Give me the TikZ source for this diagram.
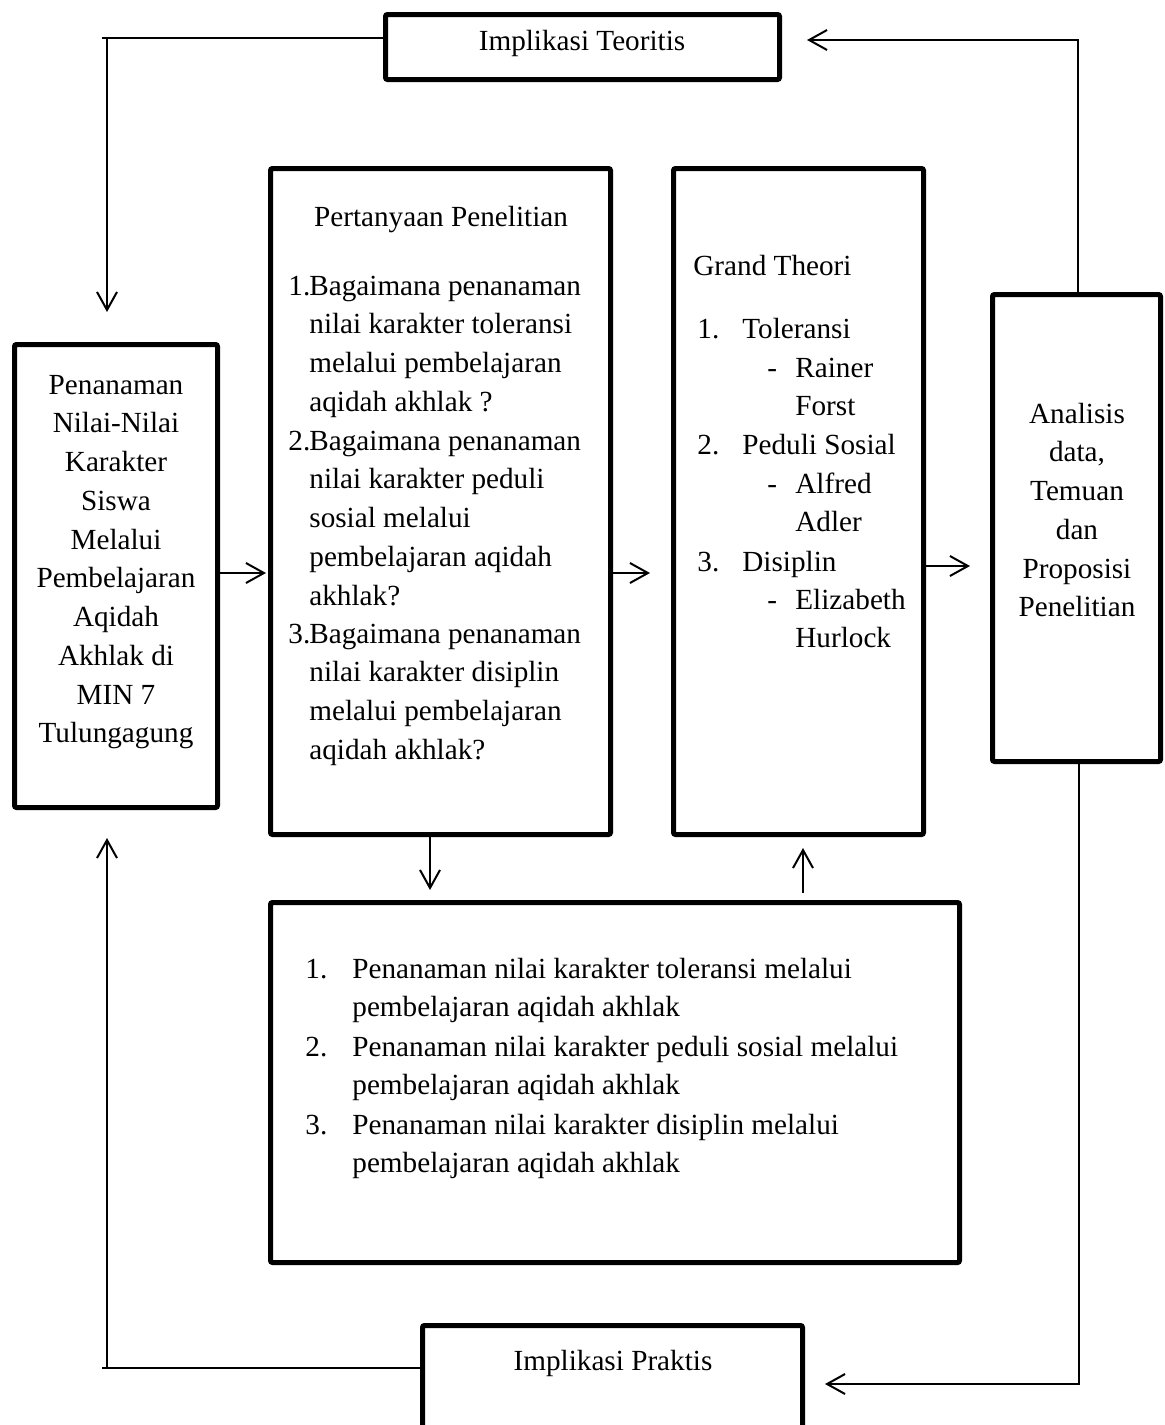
\documentclass[tikz,border=0pt]{standalone}
\usepackage{fontspec}
\setmainfont{Liberation Serif}
\usetikzlibrary{arrows.meta}
\begin{document}
\begin{tikzpicture}[x=0.5pt,y=-0.5pt,
  boxst/.style={draw, line width=2.5pt, inner sep=0pt, rectangle, rounded corners=1pt},
  txt/.style={inner sep=0pt, font=\fontsize{14.6pt}{19.375pt}\selectfont},
  conn/.style={line width=1pt},
  arr/.style={line width=1pt, -{Straight Barb[length=9pt,width=10pt]}}]
\useasboundingbox (0,0) rectangle (1164,1425);
\fill[white] (0,0) rectangle (1164,1425);

% boxes
\node[boxst, minimum width=197pt, minimum height=32.5pt] (teo) at (582.5,47) {};
\node[boxst, minimum width=101.5pt, minimum height=231.5pt] (kiri) at (116,576) {};
\node[boxst, minimum width=170pt, minimum height=333pt] (tanya) at (440.5,501.5) {};
\node[boxst, minimum width=125pt, minimum height=333pt] (grand) at (798.5,501.5) {};
\node[boxst, minimum width=84pt, minimum height=233.5pt] (analisis) at (1076.5,528) {};
\node[boxst, minimum width=344.5pt, minimum height=180pt] (bawah) at (615,1082.5) {};
\node[boxst, minimum width=190pt, minimum height=67.25pt] (praktis) at (612.5,1392.75) {};

% texts (multi-line nodes: base anchor = baseline of last line)
\node[txt, anchor=base] (teotxt) at (582,50) {Implikasi Teoritis};
\node[txt, anchor=base, align=center] (kiritxt) at (116,742.75) {Penanaman\\Nilai-Nilai\\Karakter\\Siswa\\Melalui\\Pembelajaran\\Aqidah\\Akhlak di\\MIN 7\\Tulungagung};

\node[txt, anchor=base] (tanyajudul) at (441,226) {Pertanyaan Penelitian};
\node[txt, anchor=base west] (n1) at (288,295) {1.};
\node[txt, anchor=base west, align=left] (q1) at (309,411.25) {Bagaimana penanaman\\nilai karakter toleransi\\melalui pembelajaran\\aqidah akhlak ?};
\node[txt, anchor=base west] (n2) at (288,450) {2.};
\node[txt, anchor=base west, align=left] (q2) at (309,605) {Bagaimana penanaman\\nilai karakter peduli\\sosial melalui\\pembelajaran aqidah\\akhlak?};
\node[txt, anchor=base west] (n3) at (288,643) {3.};
\node[txt, anchor=base west, align=left] (q3) at (309,759.25) {Bagaimana penanaman\\nilai karakter disiplin\\melalui pembelajaran\\aqidah akhlak?};

\node[txt, anchor=base west] (gjudul) at (693,275) {Grand Theori};
\node[txt, anchor=base west] (g1n) at (697,338) {1.};
\node[txt, anchor=base west] (g1) at (742,338) {Toleransi};
\node[txt, anchor=base west] (g1d) at (767,377) {-};
\node[txt, anchor=base west, align=left] (g1a) at (795,415.75) {Rainer\\Forst};
\node[txt, anchor=base west] (g2n) at (697,454) {2.};
\node[txt, anchor=base west] (g2) at (742,454) {Peduli Sosial};
\node[txt, anchor=base west] (g2d) at (767,493) {-};
\node[txt, anchor=base west, align=left] (g2a) at (795,531.75) {Alfred\\Adler};
\node[txt, anchor=base west] (g3n) at (697,571) {3.};
\node[txt, anchor=base west] (g3) at (742,571) {Disiplin};
\node[txt, anchor=base west] (g3d) at (767,609) {-};
\node[txt, anchor=base west, align=left] (g3a) at (795,647.75) {Elizabeth\\Hurlock};

\node[txt, anchor=base, align=center] (antxt) at (1077,616.75) {Analisis\\data,\\Temuan\\dan\\Proposisi\\Penelitian};

\node[txt, anchor=base west] (b1n) at (305,978) {1.};
\node[txt, anchor=base west, align=left] (b1) at (352,1016.75) {Penanaman nilai karakter toleransi melalui\\pembelajaran aqidah akhlak};
\node[txt, anchor=base west] (b2n) at (305,1056) {2.};
\node[txt, anchor=base west, align=left] (b2) at (352,1094.75) {Penanaman nilai karakter peduli sosial melalui\\pembelajaran aqidah akhlak};
\node[txt, anchor=base west] (b3n) at (305,1134) {3.};
\node[txt, anchor=base west, align=left] (b3) at (352,1172.75) {Penanaman nilai karakter disiplin melalui\\pembelajaran aqidah akhlak};

\node[txt, anchor=base] (prtxt) at (613,1370) {Implikasi Praktis};

% connectors
\coordinate (tle) at (102,38);
\coordinate (tlc) at (107,38);
\coordinate (tlt) at (107,312);
\draw[conn] ([yshift=4.5pt]teo.west) -- (tle);
\draw[arr] (tlc) -- (tlt);

\coordinate (trt) at (807,40);
\draw[arr] ([xshift=0.75pt]analisis.north) |- (trt);

\coordinate (brt) at (825,1384);
\draw[arr] ([xshift=1.25pt]analisis.south) |- (brt);

\coordinate (ble) at (102,1368);
\coordinate (blc) at (107,1368);
\coordinate (blt) at (107,838);
\draw[conn] ([yshift=12.375pt]praktis.west) -- (ble);
\draw[arr] (blc) -- (blt);

\coordinate (a1) at (266,573);
\draw[arr] (kiri.east |- a1) -- (a1);
\coordinate (a2) at (650,573);
\draw[arr] (tanya.east |- a2) -- (a2);
\coordinate (a3) at (970,566);
\draw[arr] (grand.east |- a3) -- (a3);

\coordinate (d1t) at (430,890);
\draw[arr] (tanya.south -| d1t) -- (d1t);
\coordinate (u1s) at (803,893);
\coordinate (u1t) at (803,848);
\draw[arr] (u1s) -- (u1t);
\end{tikzpicture}
\end{document}
